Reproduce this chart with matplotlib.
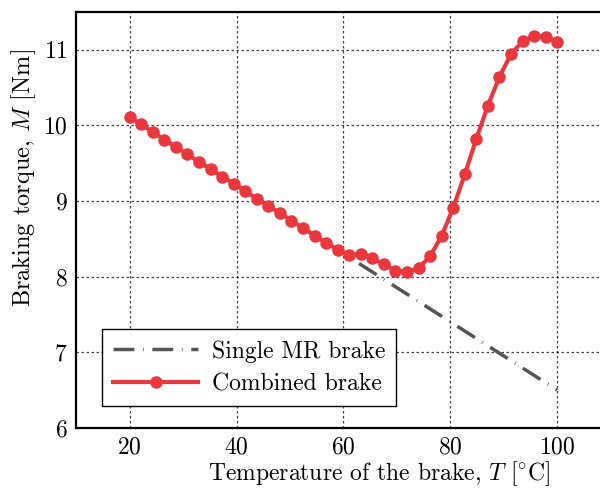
import matplotlib
matplotlib.use("Agg")
import matplotlib.pyplot as plt

# --- Data ---
temperature = [20.00, 22.16, 24.32, 26.49, 28.65, 30.81, 32.97, 35.14, 37.30, 39.46,
               41.62, 43.78, 45.95, 48.11, 50.27, 52.43, 54.59, 56.76, 58.92, 61.08,
               63.24, 65.41, 67.57, 69.73, 71.89, 74.05, 76.22, 78.38, 80.54, 82.70,
               84.86, 87.03, 89.19, 91.35, 93.51, 95.68, 97.84, 100.00]
torque_combined = [10.11, 10.01, 9.91, 9.81, 9.71, 9.62, 9.51, 9.42, 9.32, 9.23,
                   9.13, 9.03, 8.93, 8.84, 8.74, 8.64, 8.54, 8.45, 8.35, 8.28,
                   8.30, 8.24, 8.16, 8.08, 8.06, 8.11, 8.27, 8.54, 8.91, 9.35,
                   9.82, 10.26, 10.64, 10.94, 11.11, 11.18, 11.17, 11.10]
temp_single = [20, 100]
torque_single = [10.11, 6.50]

# --- Style ---
plt.rcParams["font.family"] = "cmr10"
plt.rcParams["mathtext.fontset"] = "cm"
plt.rcParams["axes.formatter.use_mathtext"] = True
plt.rcParams["font.size"] = 17

fig = plt.figure(figsize=(6, 4.88), dpi=100)
ax = fig.add_axes([0.127, 0.123, 0.873, 0.853])

ax.plot(temp_single, torque_single, color="#555555", lw=2.5,
        dashes=(6, 2.5, 0.2, 2.5), label="Single MR brake")
ax.plot(temperature, torque_combined, color="#e8383d", lw=3, marker="o",
        markersize=8, label="Combined brake")

ax.set_xlim(10, 108)
ax.set_ylim(6, 11.5)
ax.set_xticks([20, 40, 60, 80, 100])
ax.set_yticks([6, 7, 8, 9, 10, 11])
ax.tick_params(length=0, pad=6, labelsize=17)
ax.grid(True, color="black", linestyle=(0, (2, 2)), linewidth=0.9, alpha=0.75)
ax.set_axisbelow(True)

for side in ["left", "bottom", "top"]:
    ax.spines[side].set_linewidth(1.6)
ax.spines["right"].set_visible(False)

ax.set_xlabel(r"Temperature of the brake, $T$ [$^{\circ}$C]", fontsize=17)
ax.set_ylabel(r"Braking torque, $M$ [Nm]", fontsize=17.5)
ax.xaxis.set_label_coords(0.579, -0.076)
ax.yaxis.set_label_coords(-0.072, 0.60)

leg = ax.legend(loc="lower left", bbox_to_anchor=(0.05, 0.053), borderaxespad=0,
                fancybox=False, framealpha=1, edgecolor="black", handlelength=3.6,
                fontsize=17, borderpad=0.45, labelspacing=0.45, handletextpad=0.6)
leg.get_frame().set_linewidth(1.0)

fig.savefig("out.png", dpi=100)
